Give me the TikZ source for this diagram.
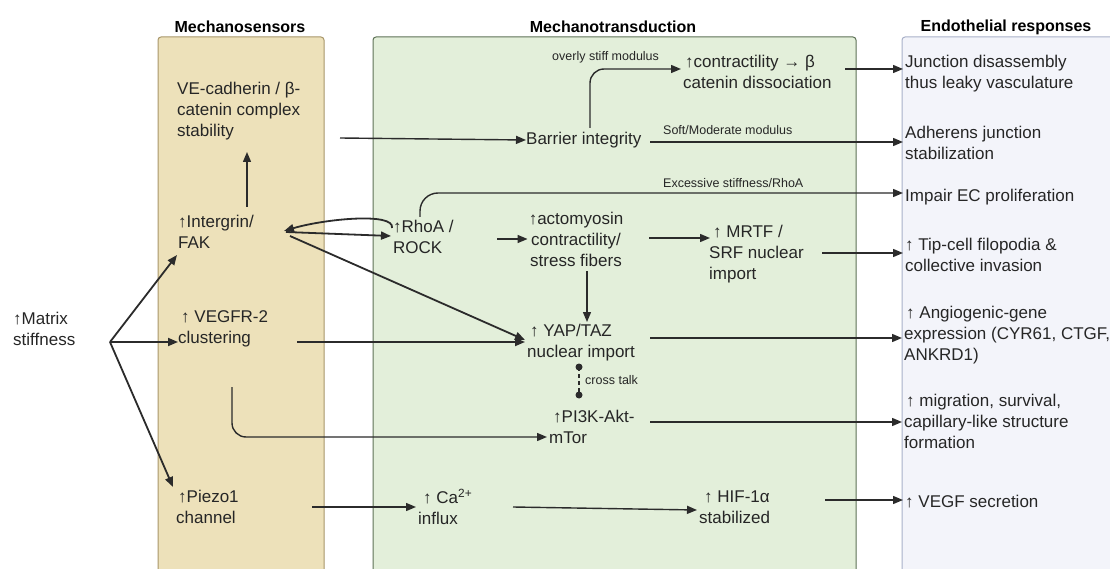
\documentclass[tikz,border=0pt]{standalone}
\usepackage{fontspec}
\setmainfont{Liberation Sans}
\usetikzlibrary{arrows.meta,calc}
\definecolor{sensfill}{HTML}{EDE1BA}
\definecolor{sensdraw}{HTML}{A8966A}
\definecolor{transfill}{HTML}{E3EFDA}
\definecolor{transdraw}{HTML}{5E7257}
\definecolor{respfill}{HTML}{F3F4FA}
\definecolor{respdraw}{HTML}{A9B1C9}
\definecolor{txt}{HTML}{262626}
\definecolor{arr}{HTML}{2B2B2B}
\tikzset{
  panel/.style={rounded corners=3pt, line width=1pt},
  lbl/.style={inner sep=0pt, text=txt, font=\fontsize{17}{21}\selectfont, align=left, anchor=west},
  lblc/.style={inner sep=0pt, text=txt, font=\fontsize{17}{21}\selectfont, align=center},
  small/.style={inner sep=0pt, text=txt, font=\fontsize{12.5}{15}\selectfont, anchor=west},
  ttl/.style={inner sep=0pt, text=black, font=\fontsize{16}{19}\selectfont\bfseries},
  conn/.style={draw=arr, line width=1.4pt, -{Triangle[length=10pt,width=8pt]}},
  bold conn/.style={conn, line width=1.8pt},
}
\begin{document}
\begin{tikzpicture}[x=1pt,y=-1pt]
\useasboundingbox (0,0) rectangle (1110,569);
\begin{scope}
\clip (0,0) rectangle (1110,569);
\fill[white] (0,0) rectangle (1110,569);
\draw[panel, fill=sensfill, draw=sensdraw] (158,37) rectangle (324,600);
\draw[panel, fill=transfill, draw=transdraw] (373,37) rectangle (856,600);
\draw[panel, fill=respfill, draw=respdraw] (902,37) rectangle (1130,600);
\end{scope}

% titles
\node[ttl] (t1) at (240,27) {Mechanosensors};
\node[ttl] (t2) at (613,27) {Mechanotransduction};
\node[ttl] (t3) at (1006,27) {Endothelial responses};

% left
\node[lbl] (ms) at (13,329) {↑Matrix\\stiffness};
\coordinate (fan) at ($(ms.west)+(97,13)$);

% mechanosensors
\node[lbl] (vec) at (177,111) {VE-cadherin / β-\\catenin complex\\stability};
\node[lbl] (itg) at (178,232) {↑Intergrin/\\FAK};
\node[lbl] (vegfr) at (178,329) {\hspace{3pt}↑ VEGFR-2\\clustering};
\node[lbl] (piezo) at (176,507) {\hspace{2pt}↑Piezo1\\channel};

% mechanotransduction
\node[lbl] (bar) at (526,140) {Barrier integrity};
\node[lbl] (ctr) at (683,72) {\hspace{2pt}↑contractility → β\\catenin dissociation};
\node[lbl] (rho) at (393,237) {↑RhoA /\\ROCK};
\node[lblc] (act) at (576,239) {↑actomyosin\\contractility/\\stress fibers};
\node[lbl] (mrtf) at (709,254) {\hspace{4pt}↑ MRTF /\\SRF nuclear\\import};
\node[lbl] (yap) at (527,343) {\hspace{3pt}↑ YAP/TAZ\\nuclear import};
\node[lbl] (pi3k) at (549,427) {\hspace{4pt}↑PI3K-Akt-\\mTor};
\node[lbl] (ca) at (418,507) {\hspace{5pt}↑ Ca\textsuperscript{2+}\\influx};
\node[lbl] (hif) at (699,507) {\hspace{5pt}↑ HIF-1α\\stabilized};

% small labels
\node[small] (l1) at (552,57) {overly stiff modulus};
\node[small] (l2) at (663,130) {Soft/Moderate modulus};
\node[small] (l3) at (663,183) {Excessive stiffness/RhoA};
\node[small] (l4) at (585,380) {cross talk};

% responses
\node[lbl] (r1) at (905,74) {Junction disassembly\\thus leaky vasculature};
\node[lbl] (r2) at (905,143) {Adherens junction\\stabilization};
\node[lbl] (r3) at (905,197) {Impair EC proliferation};
\node[lbl] (r4) at (905,255) {↑ Tip-cell filopodia \&\\collective invasion};
\node[lbl] (r5) at (904,335) {\hspace{2pt}↑ Angiogenic-gene\\expression (CYR61, CTGF,\\ANKRD1)};
\node[lbl] (r6) at (904,421) {\hspace{2pt}↑ migration, survival,\\capillary-like structure\\formation};
\node[lbl] (r7) at (905,502) {↑ VEGF secretion};

% connectors
\draw[bold conn] (fan) -- ($(itg.west)+(-1,23)$);
\draw[bold conn] (fan) -- (vegfr.west |- fan);
\draw[bold conn] (fan) -- ($(piezo.west)+(-3,-20)$);
\draw[conn] ($(itg.west)+(69,-25)$) -- ($(vec.west)+(70,41)$);
\draw[conn] ($(vec.west)+(163,27)$) -- (bar.west);
\draw[conn, rounded corners=14pt] ($(bar.west)+(64,-12)$) |- ($(ctr.west)+(-2,-3)$);
\draw[conn] ($(ctr.west)+(162,-3)$) -- ($(r1.west)+(-2,-5)$);
\draw[conn] ($(bar.west)+(124,2)$) -- ($(r2.west)+(-2,-1)$);
\draw[conn, rounded corners=18pt] ($(rho.west)+(27,-20)$) |- ($(r3.west)+(-2,-4)$);
\draw[bold conn] ($(rho.west)+(-1,-9)$) .. controls +(3,-16) and +(40,-12) .. ($(itg.west)+(106,-1)$);
\draw[bold conn] ($(itg.west)+(108,0)$) -- ($(rho.west)+(-2,-1)$);
\draw[bold conn] ($(itg.west)+(112,4)$) -- ($(yap.west)+(-2,-3)$);
\draw[conn] ($(rho.west)+(104,2)$) -- ($(act.west)+(-1,0)$);
\draw[conn] ($(act.east)+(26,-1)$) -- ($(mrtf.west)+(1,-16)$);
\draw[conn] ($(mrtf.west)+(113,-1)$) -- ($(r4.west)+(-2,-2)$);
\draw[conn] ($(act.south)+(11,5)$) -- ($(yap.west)+(60,-21)$);
\draw[bold conn] ($(vegfr.west)+(119,13)$) -- ($(yap.west)+(-2,-1)$);
\draw[conn] ($(yap.west)+(123,-5)$) -- ($(r5.west)+(-2,3)$);
\coordinate (d1) at ($(yap.west)+(52,24)$);
\coordinate (d2) at ($(pi3k.west)+(30,-32)$);
\draw[arr, line width=1.6pt, dash pattern=on 4pt off 3pt] (d1) -- (d2);
\fill[arr] (d1) circle (3.5pt) (d2) circle (3.5pt);
\draw[conn, rounded corners=14pt] ($(vegfr.west)+(54,58)$) |- ($(pi3k.west)+(-2,10)$);
\draw[conn] ($(pi3k.west)+(101,-5)$) -- ($(r6.west)+(-2,1)$);
\draw[conn] ($(piezo.west)+(136,0)$) -- ($(ca.west)+(-2,0)$);
\draw[conn] ($(ca.west)+(95,0)$) -- ($(hif.west)+(-2,3)$);
\draw[conn] ($(hif.west)+(126,-7)$) -- ($(r7.west)+(-2,-2)$);
\end{tikzpicture}
\end{document}
